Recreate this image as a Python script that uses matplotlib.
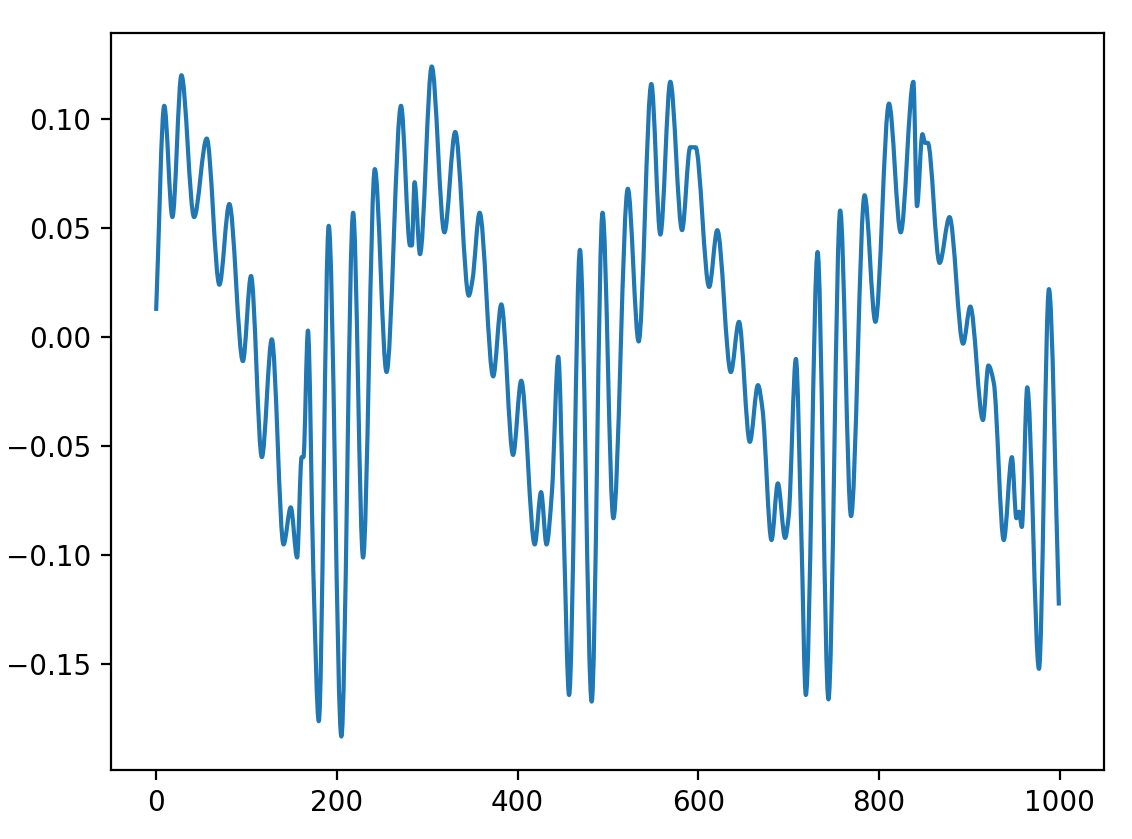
import matplotlib
matplotlib.use("Agg")
import matplotlib.pyplot as plt
from matplotlib.path import Path
from matplotlib.patches import PathPatch

# Key points (sample index, value)
xs = [0, 9, 18, 28, 42, 56, 70, 81, 96, 105,
      117, 128, 141, 149, 156, 161, 163, 168, 174, 180,
      191, 205, 218, 229, 242, 255, 271, 281, 283, 286,
      292, 305, 319, 331, 346, 350, 358, 373, 382, 395,
      404, 419, 426, 432, 438, 445, 451, 457, 469, 482,
      494, 506, 522, 534, 548, 558, 569, 582, 591, 597,
      612, 621, 636, 645, 657, 666, 671, 681, 688, 696,
      700, 708, 714, 719, 732, 744, 757, 769, 784, 796,
      811, 824, 838, 842, 848, 851, 854, 867, 878, 893,
      901, 915, 921, 927, 938, 947, 952, 955, 958, 964,
      977, 988, 999]
ys = [0.012, 0.106, 0.055, 0.120, 0.055, 0.091, 0.024, 0.061, -0.011, 0.028,
      -0.055, -0.001, -0.095, -0.078, -0.101, -0.055, -0.055, 0.003, -0.108, -0.176,
      0.051, -0.183, 0.057, -0.101, 0.077, -0.016, 0.106, 0.042, 0.042, 0.071,
      0.038, 0.124, 0.048, 0.094, 0.019, 0.026, 0.057, -0.018, 0.015, -0.054,
      -0.020, -0.095, -0.071, -0.095, -0.071, -0.009, -0.088, -0.164, 0.040, -0.167,
      0.057, -0.083, 0.068, -0.002, 0.116, 0.047, 0.117, 0.049, 0.087, 0.087,
      0.023, 0.049, -0.016, 0.007, -0.048, -0.022, -0.033, -0.093, -0.067, -0.092,
      -0.082, -0.010, -0.090, -0.164, 0.039, -0.166, 0.058, -0.082, 0.065, 0.007,
      0.107, 0.048, 0.117, 0.060, 0.093, 0.089, 0.089, 0.034, 0.055, -0.003,
      0.014, -0.038, -0.013, -0.021, -0.093, -0.055, -0.083, -0.080, -0.087, -0.023,
      -0.152, 0.022, -0.123]


def smooth_path(x, y):
    """Smooth (monotone cubic) drawing of the polyline through the points."""
    n = len(x)
    h = [x[i + 1] - x[i] for i in range(n - 1)]
    d = [(y[i + 1] - y[i]) / h[i] for i in range(n - 1)]
    m = [0.0] * n
    m[0], m[-1] = d[0], d[-1]
    for i in range(1, n - 1):
        if d[i - 1] * d[i] <= 0:
            m[i] = 0.0
        else:
            w1 = 2 * h[i] + h[i - 1]
            w2 = h[i] + 2 * h[i - 1]
            m[i] = (w1 + w2) / (w1 / d[i - 1] + w2 / d[i])
    verts = [(x[0], y[0])]
    codes = [Path.MOVETO]
    for i in range(n - 1):
        verts += [(x[i] + h[i] / 3, y[i] + m[i] * h[i] / 3),
                  (x[i + 1] - h[i] / 3, y[i + 1] - m[i + 1] * h[i] / 3),
                  (x[i + 1], y[i + 1])]
        codes += [Path.CURVE4] * 3
    return Path(verts, codes)


W, H = 1132, 839
fig = plt.figure(figsize=(W / 200, H / 200), dpi=200)
ax = fig.add_axes([111 / W, (H - 770) / H, 993 / W, 737 / H])
patch = PathPatch(smooth_path(xs, ys), facecolor="none", edgecolor="#1f77b4",
                  linewidth=1.5, joinstyle="round", capstyle="butt")
ax.add_patch(patch)
ax.plot(xs, ys, linestyle="none")  # registers data limits with default margins
ax.autoscale_view()
ax.set_xticks([0, 200, 400, 600, 800, 1000])
ax.set_yticks([-0.15, -0.10, -0.05, 0.00, 0.05, 0.10])
fig.savefig("out.png", dpi=200)
